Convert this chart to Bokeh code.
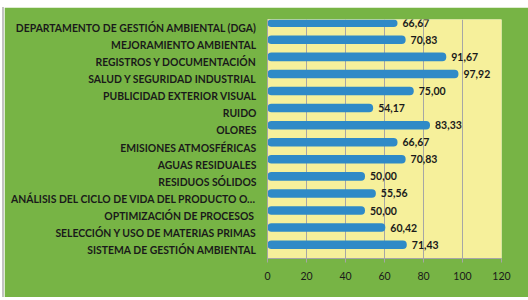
from bokeh.plotting import figure
from bokeh.models import FactorRange, Range1d, ColumnDataSource, FixedTicker, Div
from bokeh.layouts import row
from bokeh.transform import dodge
from bokeh.core.properties import value
from bokeh.embed import file_html
from bokeh.resources import INLINE

categories = [
    "DEPARTAMENTO DE GESTIÓN AMBIENTAL (DGA)",
    "MEJORAMIENTO AMBIENTAL",
    "REGISTROS Y DOCUMENTACIÓN",
    "SALUD Y SEGURIDAD INDUSTRIAL",
    "PUBLICIDAD EXTERIOR VISUAL",
    "RUIDO",
    "OLORES",
    "EMISIONES ATMOSFÉRICAS",
    "AGUAS RESIDUALES",
    "RESIDUOS SÓLIDOS",
    "ANÁLISIS DEL CICLO DE VIDA DEL PRODUCTO O…",
    "OPTIMIZACIÓN DE PROCESOS ",
    "SELECCIÓN Y USO DE MATERIAS PRIMAS",
    "SISTEMA DE GESTIÓN AMBIENTAL",
]
values = [66.67, 70.83, 91.67, 97.92, 75.00, 54.17, 83.33, 66.67, 70.83, 50.00, 55.56, 50.00, 60.42, 71.43]
x_ticks = [0, 20, 40, 60, 80, 100, 120]

GREEN = "#77b445"
YELLOW = "#f6f09b"
BLUE = "#2f8ac7"
GRID = "#a6a6a6"
TEXT = "#1a1a1a"

labels = [f"{v:.2f}".replace(".", ",") for v in values]
src = ColumnDataSource(dict(cat=categories, val=values, lab=labels))

p = figure(
    width=524, height=290,
    y_range=FactorRange(factors=list(reversed(categories))),
    x_range=Range1d(0, 120),
    output_backend="svg", toolbar_location=None,
    min_border_left=263, min_border_right=27, min_border_top=12, min_border_bottom=39,
    background_fill_color=YELLOW, border_fill_color=GREEN,
    outline_line_color=None,
    margin=(7, 0, 3, 0),
)

p.hbar(y=dodge("cat", 0.31, range=p.y_range), right="val", left=0, height=0.5,
       source=src, fill_color=BLUE, line_color=None, border_radius=4)

p.text(x="val", y=dodge("cat", 0.31, range=p.y_range), text="lab", source=src,
       x_offset=5, text_baseline="middle", text_align="left",
       text_font=value("Lato"), text_font_size="10.5px", text_font_style="bold",
       text_color=TEXT)

p.xgrid.ticker = FixedTicker(ticks=x_ticks)
p.xgrid.grid_line_color = GRID
p.ygrid.grid_line_color = None

p.xaxis.ticker = FixedTicker(ticks=x_ticks)
p.xaxis.axis_line_color = GRID
p.xaxis.major_tick_line_color = GRID
p.xaxis.major_tick_out = 4
p.xaxis.major_tick_in = 0
p.xaxis.minor_tick_line_color = None
p.xaxis.major_label_standoff = 9
p.xaxis.major_label_text_font = "Lato"
p.xaxis.major_label_text_font_size = "10.5px"
p.xaxis.major_label_text_color = TEXT

p.yaxis.axis_line_color = GRID
p.yaxis.major_tick_line_color = None
p.yaxis.major_tick_out = 0
p.yaxis.major_tick_in = 0
p.yaxis.major_label_standoff = 11
p.yaxis.major_label_text_font = "Lato"
p.yaxis.major_label_text_font_size = "10.4px"
p.yaxis.major_label_text_font_style = "bold"
p.yaxis.major_label_text_color = TEXT

edge = Div(text="", width=2, height=290, margin=(7, 0, 3, 2),
           styles={"background-color": "#c3c3c3"})

layout = row(edge, p, spacing=0)
open("out.html", "w").write(file_html(layout, INLINE))
